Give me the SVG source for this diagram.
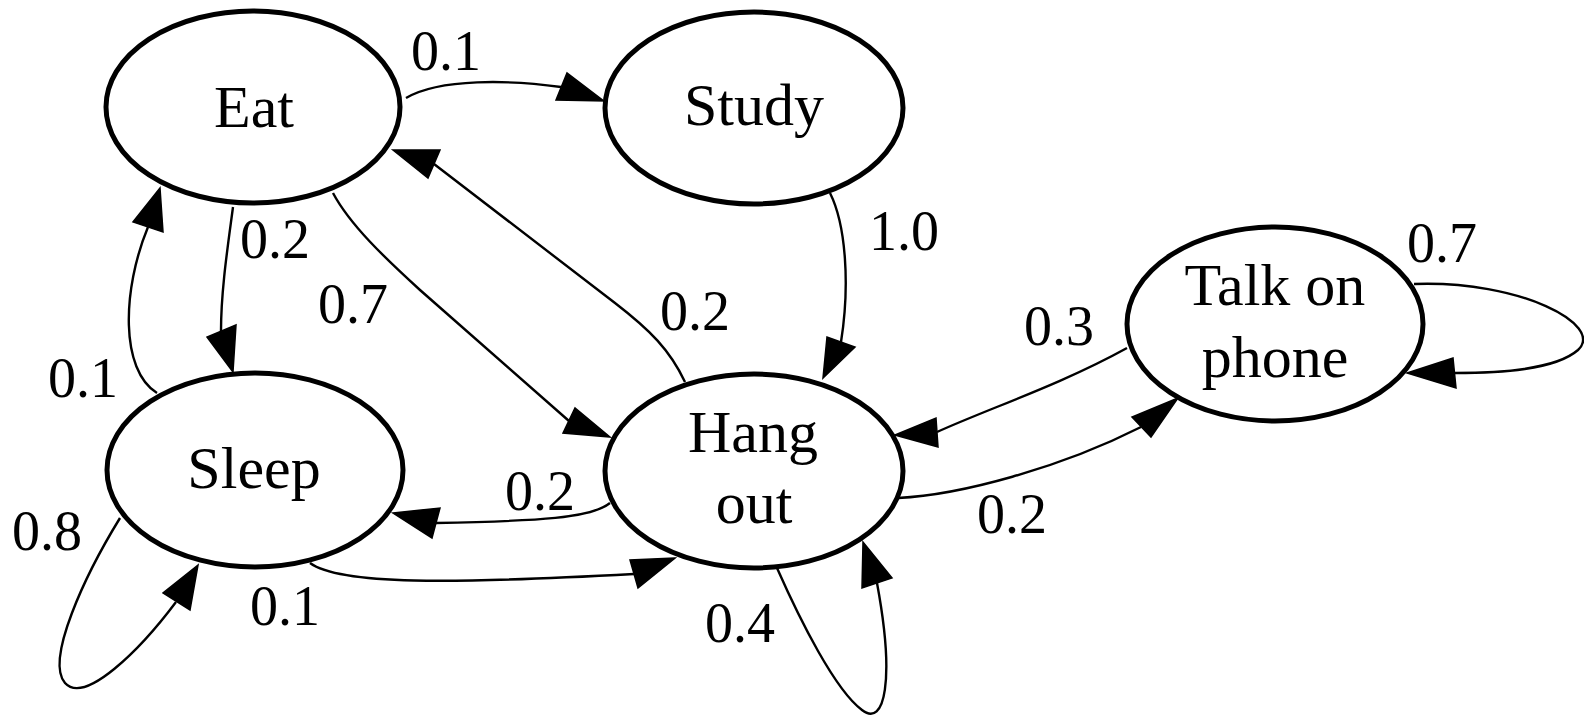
<svg xmlns="http://www.w3.org/2000/svg" width="1584" height="718" viewBox="0 0 1584 718">
<style>
.node ellipse{fill:#fff;stroke:#000;stroke-width:5}
.node text{font-family:Liberation Serif, Tinos, Times New Roman, Times, serif;font-size:60px;fill:#000;text-anchor:middle}
.edge path{fill:none;stroke:#000;stroke-width:2.4}
.edge polygon{fill:#000;stroke:#000;stroke-width:1.5;stroke-linejoin:miter}
.lbl{font-family:Times New Roman, Liberation Serif, DejaVu Serif, serif;font-size:56px;fill:#000}
</style>
<rect width="1584" height="718" fill="#fff"/>
<g id="connectors" class="edge">
  <path d="M406,98 C440,78 510,80 561,87"/><polygon points="604,101 567,73 556,100"/>
  <path d="M233,207 C228,245 221,290 221,331"/><polygon points="233,372 207,337 236,325"/>
  <path d="M157,393 C120,370 122,290 148,227"/><polygon points="160,188 133,222 163,232"/>
  <path d="M333,193 C350,225 385,258 420,290 L569,421"/><polygon points="610,437 575,408 563,433"/>
  <path d="M685,382 C670,350 650,330 615,303 L434,164"/><polygon points="393,150 440,150 428,178"/>
  <path d="M830,193 C846,225 850,285 841,342"/><polygon points="823,378 827,337 855,347"/>
  <path d="M1127,348 C1060,385 990,408 937,432"/><polygon points="895,435 936,418 938,447"/>
  <path d="M898,498 C960,495 1060,468 1141,427"/><polygon points="1178,398 1132,417 1151,437"/>
  <path d="M1414,284 C1520,280 1605,325 1578,350 C1555,370 1500,373 1455,373"/><polygon points="1407,373 1453,358 1456,388"/>
  <path d="M610,503 C592,518 540,521 436,523"/><polygon points="393,513 440,508 432,538"/>
  <path d="M310,563 C340,585 450,584 634,574"/><polygon points="675,558 630,560 638,588"/>
  <path d="M120,518 C85,575 45,660 65,683 C85,705 140,650 176,602"/><polygon points="198,565 163,593 190,610"/>
  <path d="M777,568 C800,620 835,690 862,710 C885,728 895,680 877,583"/><polygon points="863,542 862,588 892,578"/>
  <text class="lbl" x="411" y="70">0.1</text>
  <text class="lbl" x="240" y="258">0.2</text>
  <text class="lbl" x="318" y="323">0.7</text>
  <text class="lbl" x="48" y="397">0.1</text>
  <text class="lbl" x="12" y="550">0.8</text>
  <text class="lbl" x="250" y="625">0.1</text>
  <text class="lbl" x="660" y="330">0.2</text>
  <text class="lbl" x="505" y="510">0.2</text>
  <text class="lbl" x="705" y="642">0.4</text>
  <text class="lbl" x="977" y="533">0.2</text>
  <text class="lbl" x="869" y="250">1.0</text>
  <text class="lbl" x="1024" y="345">0.3</text>
  <text class="lbl" x="1407" y="262">0.7</text>
</g>
<g id="eat" class="node"><ellipse cx="253" cy="107" rx="147" ry="96"/><text x="254" y="127">Eat</text></g>
<g id="study" class="node"><ellipse cx="754" cy="108" rx="149" ry="96"/><text x="754" y="125">Study</text></g>
<g id="sleep" class="node"><ellipse cx="255" cy="470" rx="148" ry="97"/><text x="254" y="488">Sleep</text></g>
<g id="hangout" class="node"><ellipse cx="754" cy="471" rx="149" ry="97"/><text x="753" y="452">Hang</text><text x="754" y="523">out</text></g>
<g id="talk" class="node"><ellipse cx="1275" cy="324" rx="148" ry="97"/><text x="1275" y="305">Talk on</text><text x="1275" y="377">phone</text></g>
</svg>
